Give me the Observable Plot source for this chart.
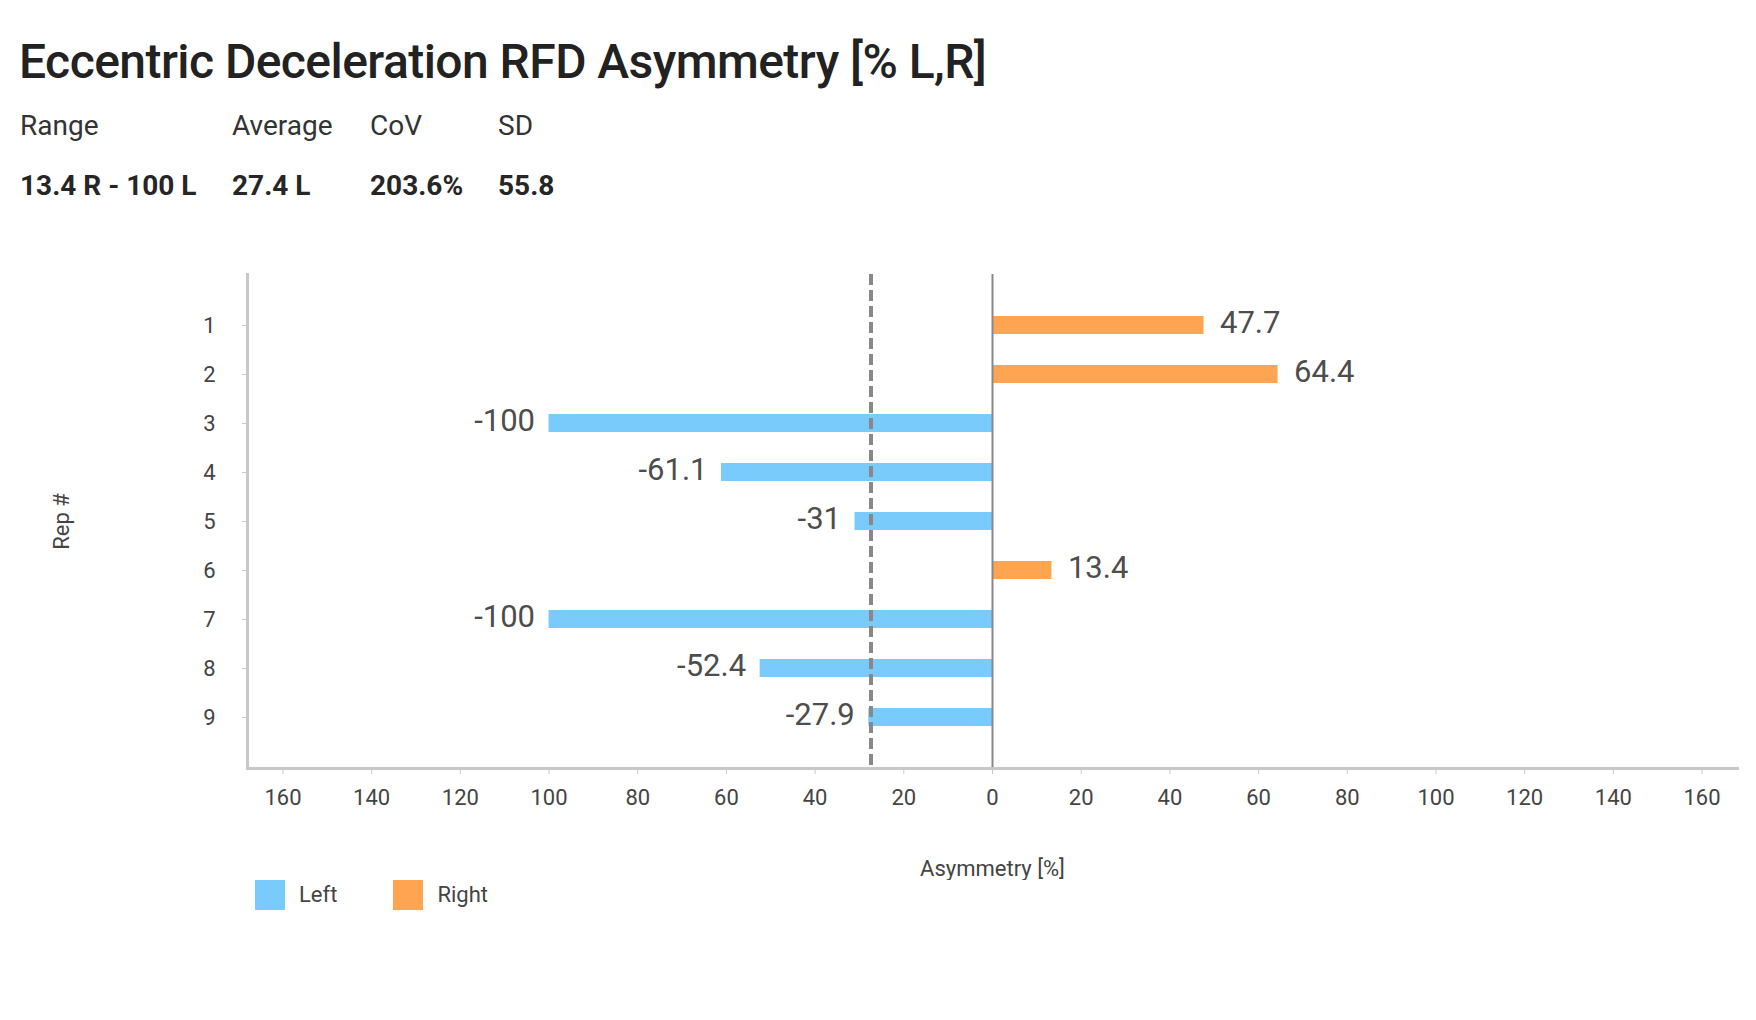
<!DOCTYPE html>
<html>
<head>
<meta charset="utf-8">
<script src="https://cdn.jsdelivr.net/npm/d3@7"></script>
<script src="https://cdn.jsdelivr.net/npm/@observablehq/plot@0.6"></script>
<style>
  html, body { margin: 0; padding: 0; background: #fff; }
  body { width: 1756px; height: 1020px; position: relative; overflow: hidden; font-family: Roboto, "Noto Sans", sans-serif; }
  .title { position: absolute; left: 19px; top: 38px; font-size: 48px; line-height: 48px; font-weight: 500; letter-spacing: -0.55px; color: #222; white-space: nowrap; }
  .stat { position: absolute; font-size: 28px; line-height: 28px; color: #333; white-space: nowrap; }
  .stat.label { top: 112px; font-weight: 400; }
  .stat.value { top: 172px; font-weight: 700; color: #262626; }
  #chart { position: absolute; left: 0; top: 220px; }
  .legend { position: absolute; left: 255px; top: 880px; display: flex; column-gap: 56px; }
  .legend .item { display: flex; align-items: flex-start; }
  .legend .swatch { width: 30px; height: 30px; margin-right: 14px; }
  .legend .name { font-size: 22px; line-height: 22px; margin-top: 4px; color: #444; }
</style>
</head>
<body>
<div class="title">Eccentric Deceleration RFD Asymmetry [% L,R]</div>
<div id="stats"></div>
<div id="chart"></div>
<div class="legend" id="legend"></div>
<script>
// Repetitions and their left/right asymmetry (negative = left, positive = right)
const reps = [1, 2, 3, 4, 5, 6, 7, 8, 9];
const asymmetry = [47.7, 64.4, -100, -61.1, -31, 13.4, -100, -52.4, -27.9];

// Sides and their colours
const sides = ["Left", "Right"];
const sideColors = ["#79cbfb", "#ffa552"];

// Axis ticks (shown as absolute percentages on both sides of zero)
const xTicks = [-160, -140, -120, -100, -80, -60, -40, -20, 0, 20, 40, 60, 80, 100, 120, 140, 160];

// Summary statistics
const averageAsymmetry = -27.4;
const sideTag = v => `${Math.abs(v)} ${v < 0 ? "L" : "R"}`;
const statLabels = ["Range", "Average", "CoV", "SD"];
const statValues = ["13.4 R - 100 L", sideTag(averageAsymmetry), "203.6%", "55.8"];
const statColumns = [20, 232, 370, 498];

const stats = document.getElementById("stats");
statLabels.forEach((label, i) => {
  const l = document.createElement("div");
  l.className = "stat label";
  l.style.left = statColumns[i] + "px";
  l.textContent = label;
  stats.appendChild(l);
  const v = document.createElement("div");
  v.className = "stat value";
  v.style.left = statColumns[i] + "px";
  v.textContent = statValues[i];
  stats.appendChild(v);
});

const data = reps.map((rep, i) => ({
  rep,
  value: asymmetry[i],
  side: asymmetry[i] < 0 ? "Left" : "Right"
}));

const labelStyle = {fontSize: 31, fill: "#4d4d4d", fontWeight: 400, dy: -2};

const chart = Plot.plot({
  width: 1756,
  height: 660,
  marginLeft: 247,
  marginRight: 19,
  marginTop: 54,
  marginBottom: 112,
  style: {fontFamily: "Roboto, 'Noto Sans', sans-serif", background: "transparent"},
  x: {domain: [-168, 168]},
  y: {domain: reps, paddingInner: 0.635, paddingOuter: 0.82},
  color: {domain: sides, range: sideColors},
  marks: [
    Plot.barX(data, {x: "value", y: "rep", fill: "side"}),
    Plot.ruleX([0], {stroke: "#888", strokeWidth: 2}),
    Plot.ruleX([averageAsymmetry], {stroke: "#888", strokeWidth: 4, strokeDasharray: "11,5"}),
    Plot.text(data.filter(d => d.value >= 0), {
      x: "value", y: "rep", text: d => String(d.value), textAnchor: "start", dx: 16, ...labelStyle
    }),
    Plot.text(data.filter(d => d.value < 0), {
      x: "value", y: "rep", text: d => String(d.value), textAnchor: "end", dx: -14, ...labelStyle
    }),
    Plot.axisX({
      ticks: xTicks, tickFormat: d => Math.abs(d), tickSize: 6, tickPadding: 15,
      fontSize: 22, stroke: "#c8c8c8", fill: "#444",
      label: "Asymmetry [%]", labelAnchor: "center", labelOffset: 107, labelArrow: "none"
    }),
    Plot.axisY({
      tickSize: 5, tickPadding: 27, fontSize: 22, stroke: "#c8c8c8", fill: "#444",
      label: "Rep #", labelAnchor: "center", labelOffset: 194, labelArrow: "none"
    }),
    Plot.frame({anchor: "bottom", stroke: "#c8c8c8", strokeWidth: 3}),
    Plot.frame({anchor: "left", stroke: "#c8c8c8", strokeWidth: 3})
  ]
});
document.getElementById("chart").appendChild(chart);

// Colour legend
const legend = document.getElementById("legend");
sides.forEach((side, i) => {
  const item = document.createElement("div");
  item.className = "item";
  const sw = document.createElement("div");
  sw.className = "swatch";
  sw.style.background = sideColors[i];
  const name = document.createElement("div");
  name.className = "name";
  name.textContent = side;
  item.appendChild(sw);
  item.appendChild(name);
  legend.appendChild(item);
});
</script>
</body>
</html>
